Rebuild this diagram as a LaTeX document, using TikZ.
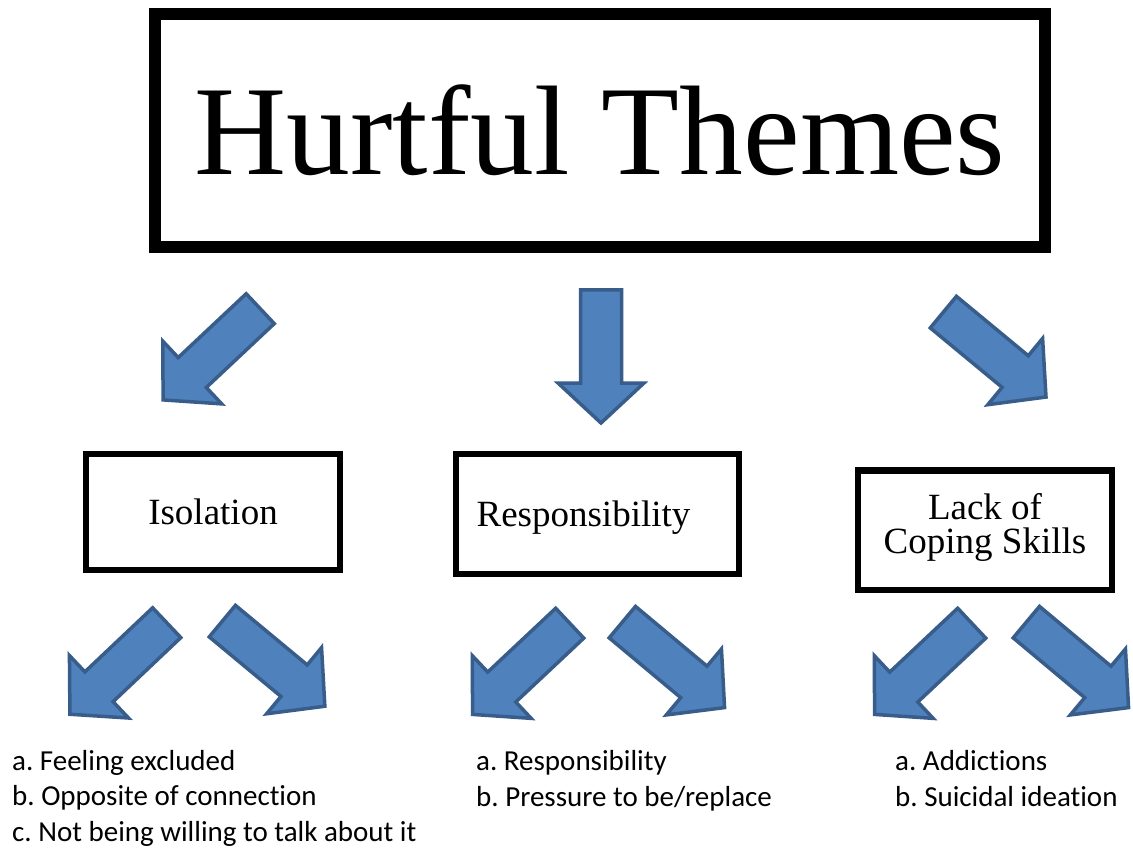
\documentclass[tikz,border=0pt]{standalone}
\usepackage{fontspec}
\setmainfont{Liberation Serif}
\newfontfamily\listfont[Ligatures=NoCommon]{Carlito}
\usepackage{xcolor}
\definecolor{arrowblue}{HTML}{4F81BD}
\definecolor{arrowedge}{HTML}{385D8A}
\frenchspacing

\tikzset{
  theme/.style={draw, line width=12bp, minimum width=890bp, minimum height=233bp,
    inner sep=0pt, font=\fontsize{127.5bp}{140bp}\selectfont},
  subtheme/.style={draw, line width=6.5bp, inner sep=0pt, align=center,
    font=\fontsize{37bp}{34bp}\selectfont},
  items/.style={anchor=base west, inner sep=0pt, align=left,
    font=\listfont\fontsize{29bp}{35.5bp}\selectfont},
  bigarrow/.pic={
    \draw[line width=3.5bp, fill=arrowblue, draw=arrowedge]
      (1.75,-20.5) -- (95,-20.5) -- (95,-43) -- (135,0) -- (95,43) -- (95,20.5) -- (1.75,20.5) -- cycle;
  }
}

\begin{document}
\begin{tikzpicture}[x=1bp, y=-1bp]
\path[fill=white, use as bounding box] (0,0) rectangle (1133,849);

% Main theme
\node[theme] (title) at (600,130.5) {Hurtful Themes};

% Arrows down to the three themes
\pic[rotate=-136.8] at (261.5,307.5) {bigarrow};
\pic[rotate=-90] at (601,288) {bigarrow};
\pic[rotate=-39.6] at (942,311) {bigarrow};

% Themes
\node[subtheme, minimum width=254bp, minimum height=116bp] (iso) at (213,512) {Isolation};
\node[subtheme, minimum width=283bp, minimum height=120bp, text depth=0pt] (resp) at (597.5,514) {Responsibility\hspace*{28bp}};
\node[subtheme, minimum width=254bp, minimum height=119.5bp, text depth=14bp] (lack) at (985,530) {Lack of\\Coping Skills};

% Arrows down to the lists
\pic[rotate=-136.6] at (168,621.5) {bigarrow};
\pic[rotate=-39.7] at (221,620) {bigarrow};
\pic[rotate=-136.8] at (571,622) {bigarrow};
\pic[rotate=-39.9] at (621,621) {bigarrow};
\pic[rotate=-136.8] at (973,622) {bigarrow};
\pic[rotate=-39.9] at (1025,621) {bigarrow};

% Lists (anchored on the last line)
\node[items] (isoList) at (12,841) {a. Feeling excluded\\b. Opposite of connection\\c. Not being willing to talk about it};
\node[items] (respList) at (476,806) {a. Responsibility\\b. Pressure to be/replace};
\node[items] (lackList) at (895,806) {a. Addictions\\b. Suicidal ideation};

\end{tikzpicture}
\end{document}
